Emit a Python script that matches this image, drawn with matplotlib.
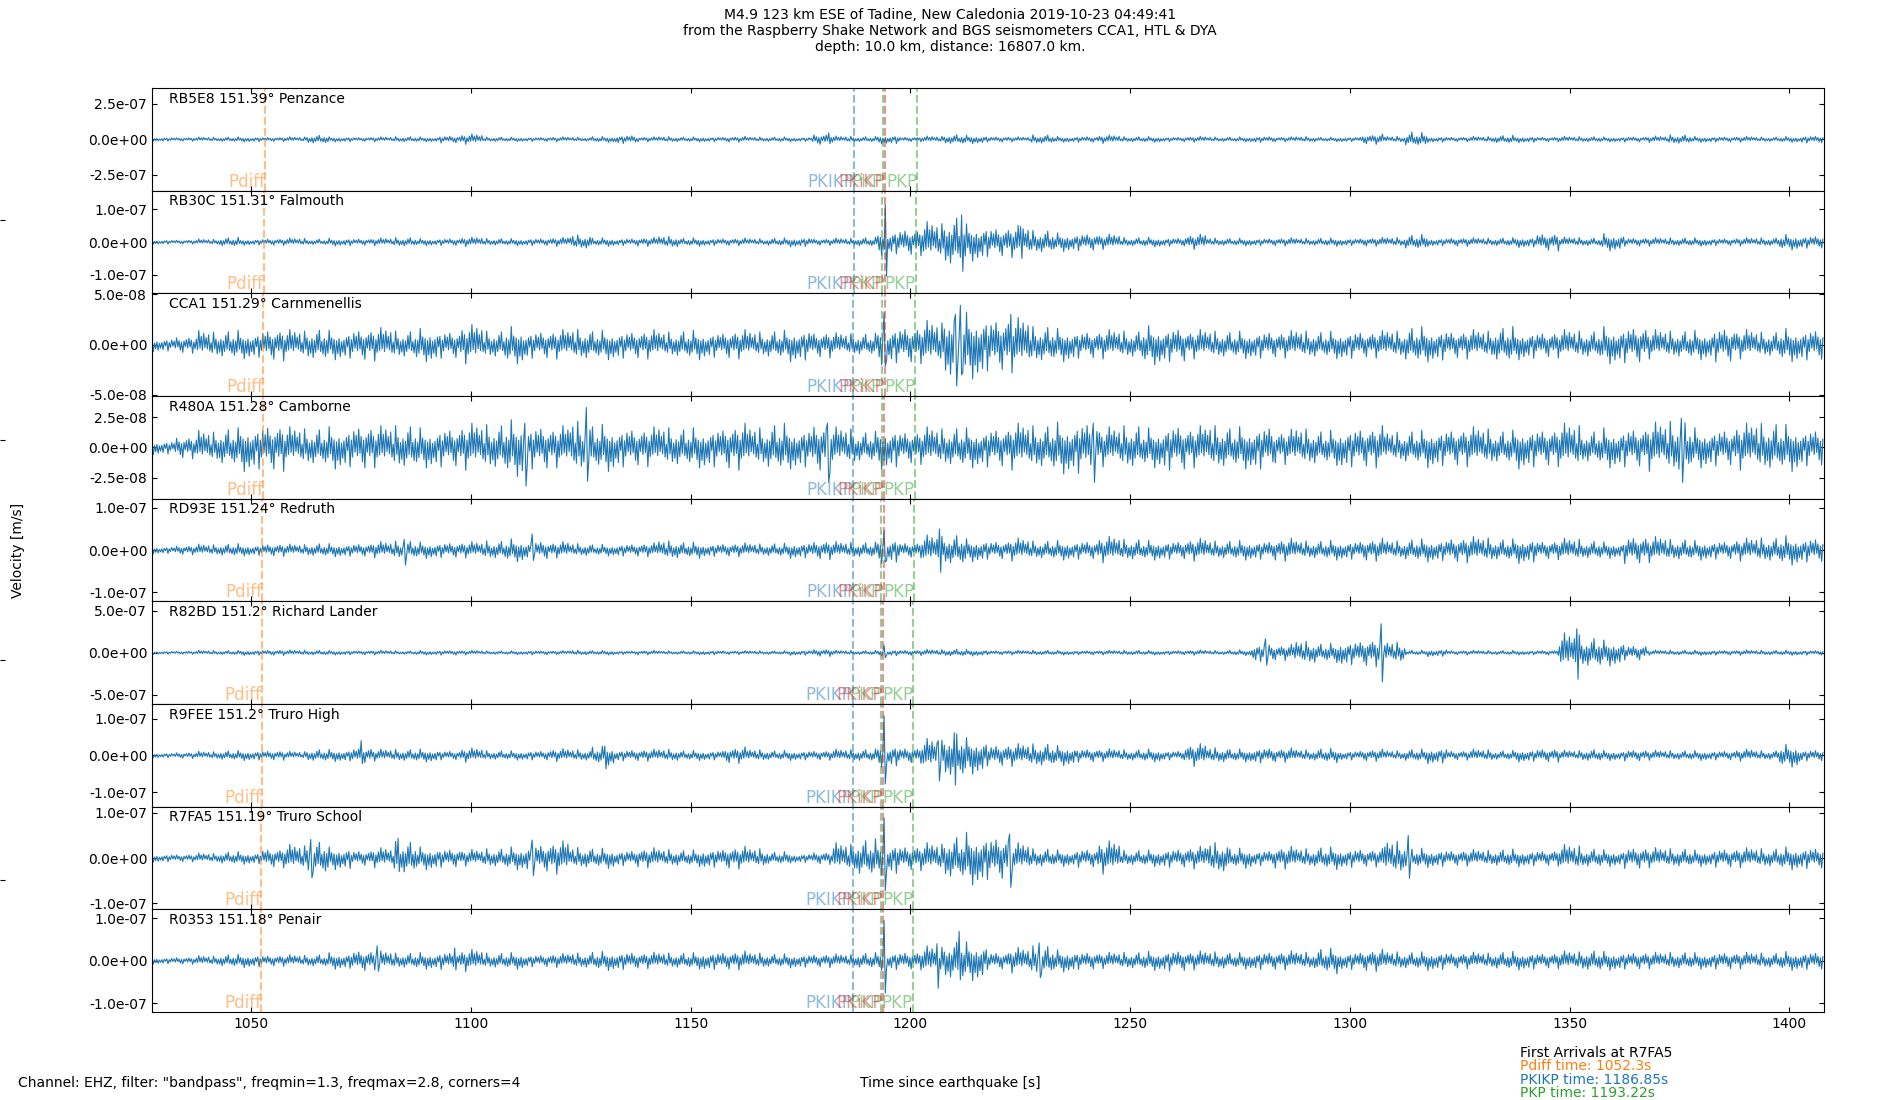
import numpy as np
import matplotlib
matplotlib.use("Agg")
import matplotlib.pyplot as plt
from matplotlib.ticker import FormatStrFormatter

# stations, top to bottom
stations = ["RB5E8", "RB30C", "CCA1", "R480A", "RD93E", "R82BD", "R9FEE", "R7FA5", "R0353"]
distances = [151.39, 151.31, 151.29, 151.28, 151.24, 151.2, 151.2, 151.19, 151.18]
places = ["Penzance", "Falmouth", "Carnmenellis", "Camborne", "Redruth",
          "Richard Lander", "Truro High", "Truro School", "Penair"]

# arrival times [s]
pdiff_t = [1053.2, 1052.85, 1052.76, 1052.71, 1052.53, 1052.35, 1052.35, 1052.3, 1052.25]
pkikp_t = [1187.23, 1187.08, 1187.04, 1187.02, 1186.95, 1186.87, 1186.87, 1186.85, 1186.83]
pkp_t = [1193.72, 1193.52, 1193.47, 1193.45, 1193.35, 1193.25, 1193.25, 1193.22, 1193.2]
pkikp2_t = [1194.3, 1194.15, 1194.1, 1194.05, 1193.95, 1193.85, 1193.85, 1193.82, 1193.8]
pkp2_t = [1201.5, 1201.2, 1201.05, 1201.0, 1200.85, 1200.65, 1200.65, 1200.6, 1200.55]

# y axis half range and tick step per panel [m/s]
y_half = [3.6e-7, 1.56e-7, 5.1e-8, 4.25e-8, 1.22e-7, 6.1e-7, 1.4e-7, 1.14e-7, 1.21e-7]
y_tick = [2.5e-7, 1e-7, 5e-8, 2.5e-8, 1e-7, 5e-7, 1e-7, 1e-7, 1e-7]

# trace envelope, peak velocity in nm/s per 5 s window starting at 1027.5 s
env_rb5e8 = [14, 14, 16, 18, 18, 16, 18, 32, 18, 16, 18, 21, 18, 28, 37, 18, 16, 16, 18, 16,
             21, 32, 18, 21, 18, 18, 21, 18, 18, 16, 41, 23, 21, 32, 18, 23, 37, 30, 21, 18,
             35, 21, 23, 30, 21, 21, 18, 21, 18, 18, 23, 18, 21, 16, 18, 37, 23, 51, 21, 18,
             21, 30, 23, 18, 21, 21, 18, 21, 23, 35, 21, 21, 21, 18, 21, 28]
env_rb30c = [7, 7, 9, 15, 10, 11, 12, 10, 12, 11, 12, 15, 11, 12, 15, 12, 11, 12, 14, 24,
             13, 12, 14, 19, 13, 12, 12, 11, 13, 15, 11, 12, 15, 40, 44, 62, 85, 58,
             49, 50, 39, 29, 29, 24, 15, 15, 14, 24, 13, 12, 12, 13, 12, 13, 12, 14, 15, 24,
             13, 14, 13, 14, 17, 29, 15, 14, 27, 14, 13, 14, 13, 12, 13, 14, 24, 21]
env_cca1 = [7, 9, 14, 15, 14, 17, 15, 17, 15, 17, 17, 15, 17, 15, 20, 15, 19, 15, 15, 17,
            15, 15, 15, 14, 15, 14, 15, 14, 15, 17, 14, 12, 12, 20, 20, 24, 39, 34,
            29, 27, 20, 17, 15, 15, 15, 20, 19, 15, 15, 14, 15, 14, 15, 14, 15, 14, 15, 19,
            17, 15, 15, 19, 15, 14, 15, 15, 19, 20, 15, 15, 15, 19, 15, 14, 17, 17]
env_r480a = [6, 10, 14, 17, 20, 21, 17, 17, 18, 20, 18, 20, 17, 18, 20, 21, 24, 20, 18, 24,
             20, 18, 17, 18, 17, 18, 20, 18, 21, 18, 22, 17, 14, 18, 15, 17, 18, 17,
             18, 20, 20, 22, 24, 17, 20, 17, 21, 18, 20, 18, 20, 15, 17, 15, 18, 18, 14, 15,
             17, 17, 17, 15, 18, 17, 20, 15, 17, 18, 21, 24, 17, 17, 20, 22, 20, 17]
env_rd93e = [9, 12, 14, 16, 14, 16, 14, 17, 16, 17, 20, 24, 20, 20, 20, 24, 28, 24, 20, 17,
             14, 16, 17, 24, 20, 17, 17, 16, 17, 20, 24, 20, 20, 32, 20, 36, 40, 28,
             24, 28, 24, 24, 24, 32, 28, 24, 24, 28, 24, 24, 24, 28, 24, 24, 24, 28, 24, 28,
             28, 32, 32, 28, 32, 24, 28, 24, 20, 36, 32, 28, 24, 24, 28, 32, 36, 32]
env_r82bd = [20, 20, 28, 28, 32, 35, 32, 32, 28, 28, 28, 24, 28, 32, 28, 24, 24, 28, 24, 32,
             28, 24, 28, 24, 24, 28, 24, 24, 24, 32, 47, 28, 28, 39, 35, 39, 47, 39,
             28, 28, 32, 28, 28, 28, 32, 28, 28, 32, 28, 35, 118, 98, 150, 118, 158, 177, 138, 32,
             47, 28, 28, 28, 28, 32, 236, 197, 158, 98, 32, 32, 32, 32, 32, 32, 32, 32]
env_r9fee = [7, 9, 11, 14, 14, 14, 11, 18, 17, 23, 17, 18, 18, 14, 20, 14, 13, 14, 18, 17,
             26, 17, 17, 18, 14, 14, 23, 17, 14, 14, 14, 17, 18, 32, 23, 46, 69, 51,
             32, 32, 35, 28, 20, 18, 17, 18, 14, 32, 23, 18, 23, 20, 17, 20, 14, 17, 14, 18,
             23, 14, 17, 14, 18, 20, 14, 18, 14, 17, 14, 14, 14, 14, 17, 14, 32, 17]
env_r7fa5 = [9, 9, 11, 15, 14, 23, 30, 41, 26, 19, 23, 41, 26, 23, 19, 23, 26, 34, 38, 26,
             23, 19, 23, 21, 19, 23, 26, 23, 15, 11, 15, 34, 45, 38, 30, 34, 53, 60,
             53, 34, 23, 19, 23, 38, 19, 19, 23, 26, 38, 23, 19, 26, 23, 26, 23, 21, 41, 23,
             21, 19, 19, 21, 19, 19, 30, 23, 19, 26, 23, 23, 19, 23, 23, 23, 26, 26]
env_r0353 = [8, 9, 12, 16, 16, 14, 14, 16, 20, 27, 23, 20, 20, 23, 27, 20, 20, 16, 17, 20,
             23, 23, 20, 20, 20, 23, 23, 20, 17, 17, 17, 16, 20, 23, 23, 35, 51, 47,
             23, 31, 39, 27, 23, 20, 22, 23, 27, 23, 23, 20, 23, 23, 22, 31, 23, 27, 23, 22,
             23, 20, 20, 23, 22, 20, 23, 27, 23, 22, 20, 22, 20, 22, 20, 20, 23, 23]

# single large swings: (time s, peak up nm/s, peak down nm/s)
peaks_rb5e8 = [(1181.5, 45, 30), (1314.0, 51, 25)]
peaks_rb30c = [(1194.4, 113, 104), (1211.5, 82, 89), (1225.0, 47, 50)]
peaks_cca1 = [(1193.9, 32, 21), (1210.2, 30, 41), (1211.4, 39, 30), (1222.7, 30, 28)]
peaks_r480a = [(1112.2, 20, 32), (1126.2, 33, 28), (1181.1, 20, 29), (1241.6, 20, 29),
               (1375.5, 24, 29)]
peaks_rd93e = [(1084.8, 25, 36), (1114.0, 38, 25), (1193.9, 46, 28), (1206.7, 50, 53)]
peaks_r82bd = [(1194.0, 87, 59), (1280.8, 165, 150), (1307.1, 343, 347), (1351.5, 284, 315)]
peaks_r9fee = [(1074.9, 40, 23), (1130.5, 25, 37), (1194.0, 108, 78), (1206.4, 40, 69),
               (1210.0, 62, 81)]
peaks_r7fa5 = [(1063.5, 41, 44), (1083.5, 44, 30), (1114.0, 40, 39), (1193.9, 89, 73),
               (1222.5, 53, 65), (1313.3, 50, 45)]
peaks_r0353 = [(1078.7, 35, 25), (1096.3, 30, 22), (1193.9, 95, 76), (1206.1, 40, 65),
               (1211.0, 69, 45), (1229.3, 42, 40)]

envelopes = [env_rb5e8, env_rb30c, env_cca1, env_r480a, env_rd93e,
             env_r82bd, env_r9fee, env_r7fa5, env_r0353]
peaks = [peaks_rb5e8, peaks_rb30c, peaks_cca1, peaks_r480a, peaks_rd93e,
         peaks_r82bd, peaks_r9fee, peaks_r7fa5, peaks_r0353]

first_station = "R7FA5"
first_pdiff = 1052.3
first_pkikp = 1186.85
first_pkp = 1193.22

t_start, t_end = 1027.4, 1407.9
bin_start, bin_width = 1027.5, 5.0
half_cycle = 0.28
# shape of the swings inside one window (fraction of the window peak)
texture = [0.35, 1.0, 0.25, 0.6, 0.4, 0.8, 0.2, 0.5, 0.3, 0.7, 0.45, 0.15, 0.55, 0.9,
           0.3, 0.4, 0.65, 0.2, 0.5, 0.35, 0.75, 0.25, 0.45, 0.6, 0.3, 0.85, 0.4, 0.2,
           0.55, 0.35, 0.7, 0.25, 0.5, 0.95, 0.3, 0.45, 0.6]


def make_trace(env, spikes):
    t = np.arange(t_start, t_end, half_cycle)
    k = np.arange(len(t))
    b = np.clip(((t - bin_start) // bin_width).astype(int), 0, len(env) - 1)
    amp = np.array(env, dtype=float)[b] * np.array(texture)[k % len(texture)]
    y = amp * np.where(k % 2 == 0, 1.0, -1.0)
    for ts, up, down in spikes:
        i = int(np.argmin(np.abs(t - ts)))
        y[i] = up
        y[i + 1] = -down
    return t, y * 1e-9


fig = plt.figure(figsize=(19, 11), dpi=100)
plt.rcParams['font.size'] = 10

# hidden frame holding the shared label ticks
frame = fig.add_axes([0, 0, 1, 1], frameon=False)
frame.set_xlim(0, 1)
frame.set_ylim(0, 1)
frame.set_xticks([])
frame.set_yticks([0.2, 0.4, 0.6, 0.8])
frame.tick_params(axis='y', direction='in', labelleft=False)

gs = fig.add_gridspec(len(stations), 1, left=0.08, right=0.96, top=0.92, bottom=0.08, hspace=0)
axes = []
for n in range(len(stations)):
    ax = fig.add_subplot(gs[n], sharex=axes[0] if axes else None)
    axes.append(ax)
    t, y = make_trace(envelopes[n], peaks[n])
    ax.plot(t, y, color='tab:blue', lw=0.8)

    lo = -y_half[n]
    for tt, lab, c in [(pdiff_t[n], 'Pdiff', 'tab:orange'), (pkikp_t[n], 'PKIKP', 'tab:blue'),
                       (pkp_t[n], 'PKP', 'tab:green'), (pkikp2_t[n], 'PKiKP', 'tab:red'),
                       (pkp2_t[n], 'PKP', 'tab:green')]:
        ax.axvline(tt, color=c, ls='--', lw=1.5, alpha=0.5)
        ax.text(tt, lo, lab, color=c, alpha=0.5, ha='right', va='bottom', fontsize=12)

    ax.text(0.01, 0.965, f"{stations[n]} {distances[n]}\u00b0 {places[n]}",
            transform=ax.transAxes, va='top', ha='left', fontsize=10)
    ax.set_ylim(-y_half[n], y_half[n])
    ax.set_yticks([-y_tick[n], 0, y_tick[n]])
    ax.yaxis.set_major_formatter(FormatStrFormatter('%.1e'))
    ax.tick_params(direction='in', top=True, right=True)
    if n < len(stations) - 1:
        ax.tick_params(labelbottom=False)

axes[0].set_xlim(t_start, t_end)
axes[-1].set_xticks([1050, 1100, 1150, 1200, 1250, 1300, 1350, 1400])

fig.text(0.5, 0.993, "M4.9 123 km ESE of Tadine, New Caledonia 2019-10-23 04:49:41\n"
         "from the Raspberry Shake Network and BGS seismometers CCA1, HTL & DYA\n"
         "depth: 10.0 km, distance: 16807.0 km.", ha='center', va='top', fontsize=10)
fig.text(0.0096, 0.5, "Velocity [m/s]", rotation=90, ha='center', va='center')
fig.text(0.0096, 0.015, 'Channel: EHZ, filter: "bandpass", freqmin=1.3, freqmax=2.8, corners=4',
         ha='left', va='center')
fig.text(0.5, 0.015, "Time since earthquake [s]", ha='center', va='center')

fig.text(0.80, 0.0425, "First Arrivals at " + first_station, color='black', va='center')
fig.text(0.80, 0.0305, f"Pdiff time: {first_pdiff}s", color='tab:orange', va='center')
fig.text(0.80, 0.0185, f"PKIKP time: {first_pkikp}s", color='tab:blue', va='center')
fig.text(0.80, 0.0065, f"PKP time: {first_pkp}s", color='tab:green', va='center')

fig.savefig("out.png", dpi=100)
